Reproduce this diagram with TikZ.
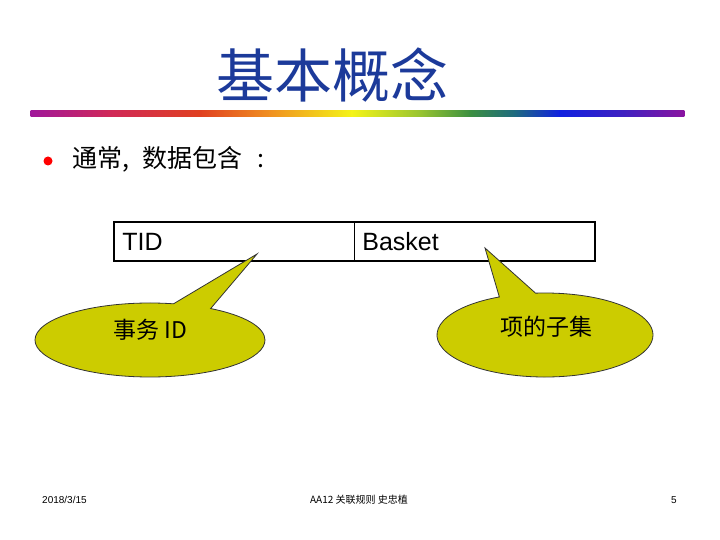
\documentclass[tikz,border=0pt]{standalone}
\usepackage{fontspec}
\setmainfont{Liberation Sans}
\newfontfamily\cjk{Noto Sans CJK SC}
\usetikzlibrary{shapes.callouts}
\definecolor{titleblue}{HTML}{1C3A9A}
\definecolor{calloutfill}{HTML}{CCCC00}
\tikzset{
  cell/.style={draw, line width=0.8pt, minimum height=38pt, inner xsep=8pt, inner ysep=0pt, text width=224pt, align=left, font=\fontsize{25}{25}\selectfont, anchor=north west},
  bubble/.style={ellipse callout, draw=black!80, line width=0.8pt, fill=calloutfill, inner sep=0pt, callout pointer arc=20},
  bubbletext/.style={font=\cjk\fontsize{23}{23}\selectfont},
}
\begin{document}
\begin{tikzpicture}[x=1pt,y=-1pt]
\useasboundingbox (0,0) rectangle (720,540);
% title
\node[font=\cjk\fontsize{58}{58}\selectfont, text=titleblue] (title) at (332,75) {基本概念};
% rainbow bar
\foreach \xa/\xb/\ca/\cb in {31/110/A0189A/D02858, 110/200/D02858/E04020, 200/270/E04020/F09020, 270/352/F09020/F4F418, 352/420/F4F418/98C430, 420/470/98C430/3C9040, 470/515/3C9040/1E6A80, 515/560/1E6A80/1020E0, 560/625/1020E0/4020C0, 625/684/4020C0/8A14A0}{
  \definecolor{ca}{HTML}{\ca}\definecolor{cb}{HTML}{\cb}
  \shade[left color=ca, right color=cb] (\xa-0.3,111) rectangle (\xb+0.3,117);
}
% bullet
\fill[red] (48,161) circle (4.5);
\node[font=\cjk\fontsize{25}{25}\selectfont, anchor=west, inner sep=0pt] (bullet) at (72,159) {通常,\hspace{13pt}数据包含\hspace{15pt}:};
% table
\node[cell] (tid) at (114,222) {TID};
\node[cell] (basket) at (354,222) {Basket};
\draw[line width=1.6pt] (tid.north west) rectangle (basket.south east);
% callouts
\coordinate (tiptid) at (257,254);
\coordinate (tipbasket) at (485,248);
\node[bubble, minimum width=230pt, minimum height=74pt, callout absolute pointer={(tiptid)}] (b1) at (150,340) {};
\node[bubble, minimum width=216pt, minimum height=84pt, callout absolute pointer={(tipbasket)}] (b2) at (545,335) {};
\node[bubbletext] (t1) at (150,330) {事务 ID};
\node[bubbletext] (t2) at (546,327) {项的子集};
% footer
\node[font=\fontsize{10}{10}\selectfont, anchor=west, inner sep=0pt] (date) at (42,500) {2018/3/15};
\node[font=\cjk\fontsize{10}{10}\selectfont, inner sep=0pt] (foot) at (359,500) {AA12 关联规则 史忠植};
\node[font=\fontsize{10}{10}\selectfont, inner sep=0pt] (page) at (674,500) {5};
\end{tikzpicture}
\end{document}
